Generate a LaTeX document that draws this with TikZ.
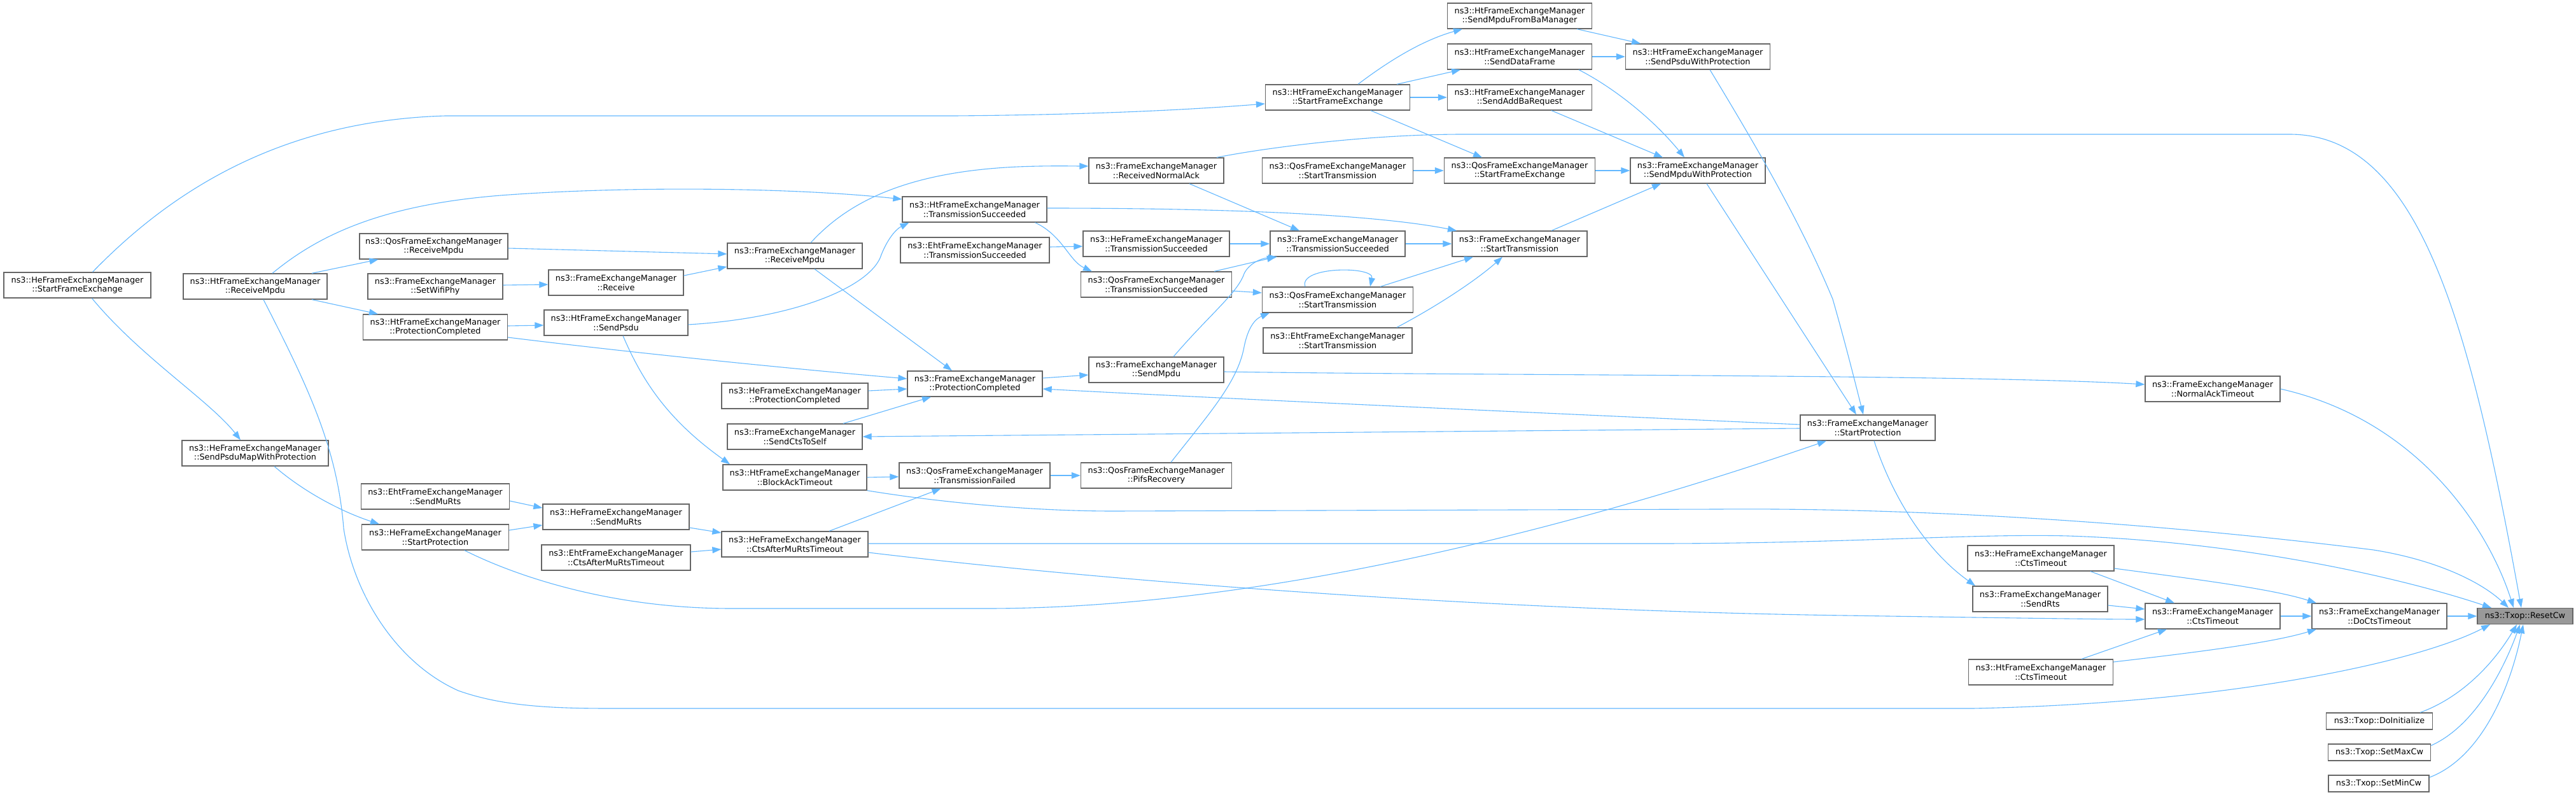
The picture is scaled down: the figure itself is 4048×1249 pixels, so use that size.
\documentclass[tikz,border=0pt]{standalone}
\usepackage{fontspec}
\setmainfont{DejaVu Sans}
\usetikzlibrary{arrows.meta}
\definecolor{edgec}{HTML}{63B8FF}
\definecolor{boxc}{HTML}{666666}
\definecolor{rootc}{HTML}{999999}
\begin{document}
\begin{tikzpicture}[x=1pt,y=-1pt,
  fn/.style={draw=boxc, line width=1.3pt, fill=white, inner sep=0pt, minimum height=40pt, align=center, font=\fontsize{12.8}{14.5}\selectfont},
  fs/.style={fn, minimum height=26pt},
  e/.style={draw=edgec, line width=1.1pt, -{Triangle[length=14pt,width=10pt]}},
]
\fill[white] (0,0) rectangle (4048,1249);
\useasboundingbox (0,0) rectangle (4048,1249);

% column 1
\node[fn, minimum width=231pt] (heSFE) at (121.5,448) {ns3::HeFrameExchangeManager\\::StartFrameExchange};
% column 2
\node[fn, minimum width=226pt] (htRM) at (401,450) {ns3::HtFrameExchangeManager\\::ReceiveMpdu};
\node[fn, minimum width=230pt] (heSPMWP) at (401,712) {ns3::HeFrameExchangeManager\\::SendPsduMapWithProtection};
% column 3
\node[fn, minimum width=233pt] (qosRM) at (681.5,387) {ns3::QosFrameExchangeManager\\::ReceiveMpdu};
\node[fn, minimum width=212pt] (setWifi) at (684,450) {ns3::FrameExchangeManager\\::SetWifiPhy};
\node[fn, minimum width=227pt] (htPC) at (684,514) {ns3::HtFrameExchangeManager\\::ProtectionCompleted};
\node[fn, minimum width=233pt] (ehtSMR) at (684,780) {ns3::EhtFrameExchangeManager\\::SendMuRts};
\node[fn, minimum width=231pt] (heSP) at (684,844) {ns3::HeFrameExchangeManager\\::StartProtection};
% column 4
\node[fn, minimum width=212pt] (feRecv) at (968,444) {ns3::FrameExchangeManager\\::Receive};
\node[fn, minimum width=226pt] (htSendPsdu) at (968,507) {ns3::HtFrameExchangeManager\\::SendPsdu};
\node[fn, minimum width=230pt] (heSMR) at (968,812) {ns3::HeFrameExchangeManager\\::SendMuRts};
\node[fn, minimum width=234pt] (ehtCAMRT) at (968,876) {ns3::EhtFrameExchangeManager\\::CtsAfterMuRtsTimeout};
% column 5
\node[fn, minimum width=212pt] (feRM) at (1249,402) {ns3::FrameExchangeManager\\::ReceiveMpdu};
\node[fn, minimum width=230pt] (hePC) at (1249,622) {ns3::HeFrameExchangeManager\\::ProtectionCompleted};
\node[fn, minimum width=212pt] (feSCTS) at (1249,686) {ns3::FrameExchangeManager\\::SendCtsToSelf};
\node[fn, minimum width=226pt] (htBAT) at (1249,750) {ns3::HtFrameExchangeManager\\::BlockAckTimeout};
\node[fn, minimum width=230pt] (heCAMRT) at (1249,855) {ns3::HeFrameExchangeManager\\::CtsAfterMuRtsTimeout};
% column 6
\node[fn, minimum width=227pt] (htTS) at (1531.5,329) {ns3::HtFrameExchangeManager\\::TransmissionSucceeded};
\node[fn, minimum width=234pt] (ehtTS) at (1532,393) {ns3::EhtFrameExchangeManager\\::TransmissionSucceeded};
\node[fn, minimum width=212pt] (fePC) at (1532,603) {ns3::FrameExchangeManager\\::ProtectionCompleted};
\node[fn, minimum width=237pt] (qosTF) at (1531.5,747) {ns3::QosFrameExchangeManager\\::TransmissionFailed};
% column 7
\node[fn, minimum width=212pt] (feRNA) at (1817,268) {ns3::FrameExchangeManager\\::ReceivedNormalAck};
\node[fn, minimum width=230pt] (heTS) at (1817,383) {ns3::HeFrameExchangeManager\\::TransmissionSucceeded};
\node[fn, minimum width=237pt] (qosTS) at (1817,447) {ns3::QosFrameExchangeManager\\::TransmissionSucceeded};
\node[fn, minimum width=212pt] (feSendMpdu) at (1817,581) {ns3::FrameExchangeManager\\::SendMpdu};
\node[fn, minimum width=237pt] (qosPifs) at (1817,747) {ns3::QosFrameExchangeManager\\::PifsRecovery};
% column 8
\node[fn, minimum width=227pt] (htSFE) at (2102,153) {ns3::HtFrameExchangeManager\\::StartFrameExchange};
\node[fn, minimum width=237pt] (qosST1) at (2102,268) {ns3::QosFrameExchangeManager\\::StartTransmission};
\node[fn, minimum width=212pt] (feTS) at (2102,383) {ns3::FrameExchangeManager\\::TransmissionSucceeded};
\node[fn, minimum width=237pt] (qosST) at (2102,471) {ns3::QosFrameExchangeManager\\::StartTransmission};
\node[fn, minimum width=234pt] (ehtST) at (2102,535) {ns3::EhtFrameExchangeManager\\::StartTransmission};
% column 9
\node[fn, minimum width=227pt] (htSMFBM) at (2388,25) {ns3::HtFrameExchangeManager\\::SendMpduFromBaManager};
\node[fn, minimum width=227pt] (htSDF) at (2388,89) {ns3::HtFrameExchangeManager\\::SendDataFrame};
\node[fn, minimum width=227pt] (htSABR) at (2388,153) {ns3::HtFrameExchangeManager\\::SendAddBaRequest};
\node[fn, minimum width=237pt] (qosSFE) at (2388,268) {ns3::QosFrameExchangeManager\\::StartFrameExchange};
\node[fn, minimum width=212pt] (feST) at (2388,383) {ns3::FrameExchangeManager\\::StartTransmission};
% column 10
\node[fn, minimum width=227pt] (htSPWP) at (2668,89) {ns3::HtFrameExchangeManager\\::SendPsduWithProtection};
\node[fn, minimum width=212pt] (feSMWP) at (2668,268) {ns3::FrameExchangeManager\\::SendMpduWithProtection};
% column 11
\node[fn, minimum width=212pt] (feSP) at (2935,672) {ns3::FrameExchangeManager\\::StartProtection};
% column 12
\node[fn, minimum width=230pt] (heCT) at (3207,877) {ns3::HeFrameExchangeManager\\::CtsTimeout};
\node[fn, minimum width=212pt] (feSendRts) at (3206,941) {ns3::FrameExchangeManager\\::SendRts};
\node[fn, minimum width=227pt] (htCT) at (3207,1056) {ns3::HtFrameExchangeManager\\::CtsTimeout};
% column 13
\node[fn, minimum width=212pt] (feNAT) at (3477,611) {ns3::FrameExchangeManager\\::NormalAckTimeout};
\node[fn, minimum width=212pt] (feCT) at (3477,968) {ns3::FrameExchangeManager\\::CtsTimeout};
% column 14
\node[fn, minimum width=212pt] (feDCT) at (3739,968) {ns3::FrameExchangeManager\\::DoCtsTimeout};
\node[fs, minimum width=167pt] (doInit) at (3739,1133) {ns3::Txop::DoInitialize};
\node[fs, minimum width=161pt] (setMax) at (3739,1182) {ns3::Txop::SetMaxCw};
\node[fs, minimum width=158pt] (setMin) at (3738,1231) {ns3::Txop::SetMinCw};
% root
\node[fn, fill=rootc, minimum width=150pt, minimum height=25pt] (reset) at (3968,968) {ns3::Txop::ResetCw};

% ---- edges ----
\draw[e] ([xshift=24pt]heSFE.north) .. controls (250,320) and (420,190) .. (700,182) -- (1500,182) .. controls (1750,180) and (1900,170) .. ([yshift=-10pt]htSFE.west);
\draw[e] ([xshift=23pt]heSFE.south) .. controls (220,560) and (330,630) .. ([xshift=-23pt]heSPMWP.north);
\draw[e] ([xshift=27pt]htRM.north) .. controls (500,370) and (600,320) .. (800,306) .. controls (1000,292) and (1250,295) .. ([yshift=16pt]htTS.west);
\draw[e] ([xshift=89pt]htRM.north) -- ([xshift=-87pt]qosRM.south);
\draw[e] ([xshift=89pt]htRM.south) -- ([xshift=-90pt]htPC.north);
\draw[e] ([xshift=13pt]htRM.south) .. controls (480,600) and (530,700) .. (540,830) .. controls (555,930) and (620,1040) .. (720,1085) .. controls (790,1110) and (870,1113) .. (960,1113) -- (3100,1113) .. controls (3500,1105) and (3800,1040) .. ([xshift=-55pt]reset.south);
\draw[e] ([xshift=30pt]heSPMWP.south) .. controls (480,775) and (540,805) .. ([xshift=-88pt]heSP.north);
\draw[e] ([yshift=-3pt]qosRM.east) -- ([yshift=3pt]feRM.west);
\draw[e] ([yshift=2pt]setWifi.east) -- ([yshift=-3pt]feRecv.west);
\draw[e] ([yshift=2pt]htPC.east) -- ([yshift=-4pt]htSendPsdu.west);
\draw[e] ([yshift=-16pt]htPC.east) .. controls (1000,555) and (1250,580) .. ([yshift=8pt]fePC.west);
\draw[e] ([yshift=-7pt]ehtSMR.east) -- ([yshift=14pt]heSMR.west);
\draw[e] ([yshift=11pt]heSP.east) -- ([yshift=-13pt]heSMR.west);
\draw[e] ([xshift=46pt]heSP.south) .. controls (800,900) and (950,956) .. (1150,956) -- (1550,956) .. controls (2000,956) and (2500,820) .. ([xshift=-65pt]feSP.south);
\draw[e] ([yshift=11pt]feRecv.east) -- ([yshift=-17pt]feRM.west);
\draw[e] ([yshift=-3pt]htSendPsdu.east) .. controls (1250,500) and (1370,450) .. (1385,400) .. controls (1395,375) and (1408,360) .. ([xshift=-103pt]htTS.south);
\draw[e] ([xshift=11pt]htSendPsdu.south) .. controls (1010,600) and (1050,660) .. ([xshift=-102pt]htBAT.north);
\draw[e] ([yshift=-17pt]heSMR.east) -- ([yshift=18pt]heCAMRT.west);
\draw[e] ([yshift=9pt]ehtCAMRT.east) -- ([yshift=-8pt]heCAMRT.west);
\draw[e] ([xshift=25pt]feRM.north) .. controls (1330,320) and (1420,270) .. (1600,262) .. controls (1650,260) and (1690,261) .. ([yshift=7pt]feRNA.west);
\draw[e] ([xshift=31pt]feRM.south) -- ([xshift=-36pt]fePC.north);
\draw[e] ([yshift=8pt]hePC.east) -- ([yshift=-8pt]fePC.west);
\draw[e] ([xshift=76pt]feSCTS.north) -- ([xshift=-69pt]fePC.south);
\draw[e] (htBAT.east) -- ([yshift=-2pt]qosTF.west);
\draw[e] (htBAT.south east) .. controls (1450,785) and (1600,803) .. (1750,803) -- (2700,800) .. controls (3100,797) and (3500,835) .. (3730,864) .. controls (3830,880) and (3900,915) .. ([xshift=-26pt]reset.north);
\draw[e] ([xshift=54pt]heCAMRT.north) -- ([xshift=-53pt]qosTF.south);
\draw[e] ([yshift=1pt]heCAMRT.east) -- (2600,854) .. controls (2900,854) and (3100,838) .. (3250,842) .. controls (3500,850) and (3750,900) .. ([xshift=-53pt]reset.north);
\draw[e] ([yshift=-13pt]heCAMRT.east) .. controls (1800,920) and (2400,960) .. (2900,967) .. controls (3100,970) and (3300,973) .. ([yshift=-5pt]feCT.west);
\draw[e] ([yshift=2pt]htTS.east) .. controls (1900,327) and (2150,335) .. ([xshift=-99pt]feST.north);
\draw[e] ([xshift=95pt]htTS.south) .. controls (1670,370) and (1680,410) .. ([xshift=-101pt]qosTS.north);
\draw[e] ([yshift=5pt]ehtTS.east) -- ([yshift=-4pt]heTS.west);
\draw[e] ([yshift=9pt]fePC.east) -- ([yshift=-8pt]feSendMpdu.west);
\draw[e] (qosTF.east) -- (qosPifs.west);
\draw[e] ([xshift=52pt]feRNA.south) -- ([xshift=-60pt]feTS.north);
\draw[e] ([xshift=95pt]feRNA.north) .. controls (1990,232) and (2150,211) .. (2300,211) -- (3600,211) .. controls (3800,213) and (3880,500) .. ([xshift=-6pt]reset.north);
\draw[e] (heTS.east) -- (feTS.west);
\draw[e] ([xshift=91pt]qosTS.north) -- ([xshift=-97pt]feTS.south);
\draw[e] ([yshift=-10pt]qosTS.east) -- ([yshift=11pt]qosST.west);
\draw[e] ([xshift=27pt]feSendMpdu.north) .. controls (1900,495) and (1945,460) .. (1955,430) .. controls (1962,415) and (1980,406) .. ([xshift=-95pt]feTS.south);
\draw[e] ([yshift=-3pt]feSendMpdu.east) .. controls (2300,590) and (3100,588) .. ([yshift=7pt]feNAT.west);
\draw[e] ([xshift=23pt]qosPifs.north) .. controls (1900,650) and (1945,600) .. (1955,545) .. controls (1962,510) and (1975,500) .. ([xshift=-107pt]qosST.south);
\draw[e] ([xshift=32pt]htSFE.north) .. controls (2190,90) and (2240,62) .. ([xshift=-90pt]htSMFBM.south);
\draw[e] ([xshift=93pt]htSFE.north) -- ([xshift=-93pt]htSDF.south);
\draw[e] (htSFE.east) -- (htSABR.west);
\draw[e] ([xshift=52pt]htSFE.south) -- ([xshift=-59pt]qosSFE.north);
\draw[e] (qosST1.east) -- (qosSFE.west);
\draw[e] (feTS.east) -- (feST.west);
\draw[e] ([xshift=-51pt]qosST.north) .. controls (2040,418) and (2160,418) .. ([xshift=51pt]qosST.north);
\draw[e] ([xshift=67pt]qosST.north) -- ([xshift=-73pt]feST.south);
\draw[e] ([xshift=93pt]ehtST.north) .. controls (2260,480) and (2320,440) .. ([xshift=-27pt]feST.south);
\draw[e] ([xshift=90pt]htSMFBM.south) -- ([xshift=-90pt]htSPWP.north);
\draw[e] (htSDF.east) -- (htSPWP.west);
\draw[e] ([xshift=93pt]htSDF.south) .. controls (2540,140) and (2600,190) .. ([xshift=-21pt]feSMWP.north);
\draw[e] ([xshift=50pt]htSABR.south) -- ([xshift=-55pt]feSMWP.north);
\draw[e] (qosSFE.east) -- (feSMWP.west);
\draw[e] ([xshift=50pt]feST.north) -- ([xshift=-58pt]feSMWP.south);
\draw[e] ([xshift=19pt]htSPWP.south) .. controls (2760,230) and (2830,350) .. (2880,470) .. controls (2900,540) and (2915,600) .. ([xshift=-7pt]feSP.north);
\draw[e] ([xshift=14pt]feSMWP.south) -- ([xshift=-18pt]feSP.north);
\draw[e] ([yshift=5pt]feSP.west) .. controls (2400,648) and (1900,625) .. ([yshift=-8pt]fePC.east);
\draw[e] ([yshift=-1pt]feSP.west) -- (feSCTS.east);
\draw[e] ([xshift=10pt]feSP.south) .. controls (2970,770) and (3020,860) .. ([xshift=-102pt]feSendRts.north);
\draw[e] (feNAT.east) .. controls (3800,660) and (3910,830) .. ([xshift=-18pt]reset.north);
\draw[e] ([xshift=78pt]heCT.south) -- ([xshift=-60pt]feCT.north);
\draw[e] ([yshift=-16pt]heCT.east) .. controls (3450,910) and (3570,925) .. ([xshift=-99pt]feDCT.north);
\draw[e] ([yshift=-10pt]feSendRts.east) -- ([yshift=11pt]feCT.west);
\draw[e] ([xshift=64pt]htCT.north) -- ([xshift=-72pt]feCT.south);
\draw[e] ([yshift=16pt]htCT.east) .. controls (3450,1025) and (3570,1010) .. ([xshift=-99pt]feDCT.south);
\draw[e] (feCT.east) -- (feDCT.west);
\draw[e] (feDCT.east) -- (reset.west);
\draw[e] ([xshift=-20pt]doInit.north east) .. controls (3870,1095) and (3920,1040) .. ([xshift=-13pt]reset.south);
\draw[e] ([yshift=-3pt]setMax.north east) .. controls (3890,1140) and (3935,1050) .. ([xshift=-8pt]reset.south);
\draw[e] ([yshift=-4pt]setMin.north east) .. controls (3900,1190) and (3945,1080) .. ([xshift=-3pt]reset.south);
\end{tikzpicture}
\end{document}
